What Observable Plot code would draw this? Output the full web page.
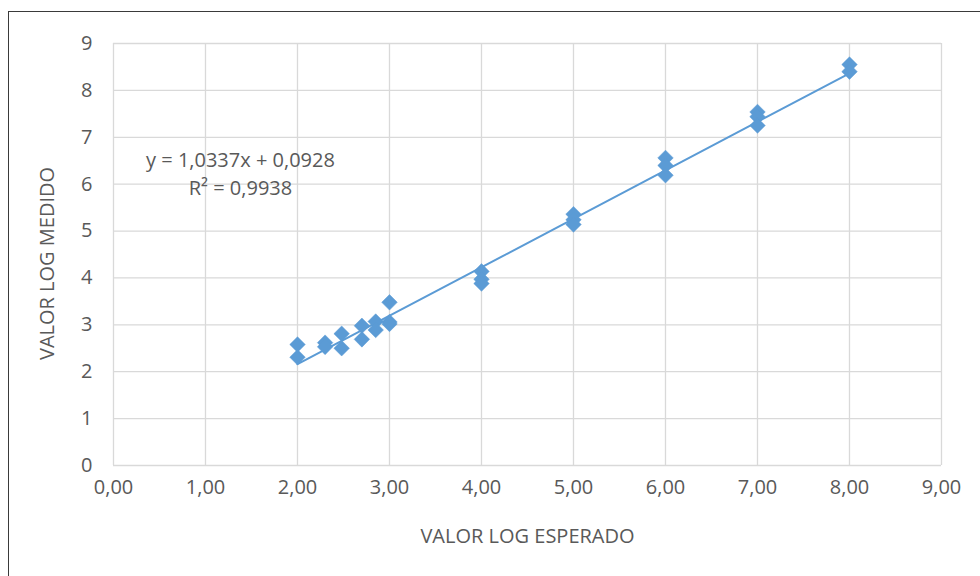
<!DOCTYPE html>
<html>
<head>
<meta charset="utf-8">
<script src="https://cdn.jsdelivr.net/npm/d3@7"></script>
<script src="https://cdn.jsdelivr.net/npm/@observablehq/plot@0.6"></script>
<style>
  html, body { margin: 0; padding: 0; background: #fff; }
  #wrap { position: relative; width: 980px; height: 576px; overflow: hidden; }
  #frame { position: absolute; left: 8px; top: 11px; width: 1000px; height: 600px;
           border-left: 1.5px solid #3a3a3a; border-top: 1.5px solid #3a3a3a; pointer-events: none; }
</style>
</head>
<body>
<div id="wrap"><div id="frame"></div></div>
<script>
const xValues = [2, 2, 2.3, 2.3, 2.48, 2.48, 2.7, 2.7, 2.85, 2.85, 3, 3, 3,
                 4, 4, 4, 5, 5, 5, 6, 6, 6, 7, 7, 7, 8, 8];
const yValues = [2.58, 2.31, 2.62, 2.53, 2.81, 2.50, 2.98, 2.69, 3.07, 2.89, 3.48, 3.06, 3.02,
                 4.14, 3.97, 3.88, 5.36, 5.24, 5.14, 6.56, 6.40, 6.19, 7.54, 7.44, 7.25, 8.55, 8.40];
const slope = 1.0337, intercept = 0.0928, r2 = 0.9938;
const xTicks = [0, 1, 2, 3, 4, 5, 6, 7, 8, 9];
const yTicks = [0, 1, 2, 3, 4, 5, 6, 7, 8, 9];
const xLabel = "VALOR LOG ESPERADO";
const yLabel = "VALOR LOG MEDIDO";
const eqLabel = "y = 1,0337x + 0,0928";
const r2Label = "R² = 0,9938";

const points = xValues.map((x, i) => ({x, y: yValues[i]}));
const xMin = d3.min(xValues), xMax = d3.max(xValues);
const trend = [xMin, xMax].map(x => ({x, y: slope * x + intercept}));
const comma2 = d => d.toFixed(2).replace(".", ",");

const blue = "#5B9BD5";
const grid = "#D9D9D9";
const textColor = "#595959";
const font = "'Open Sans', Lato, sans-serif";
const fs = 20;

const chart = Plot.plot({
  width: 980,
  height: 576,
  marginLeft: 113,
  marginRight: 39,
  marginTop: 43,
  marginBottom: 111,
  style: { fontFamily: font, fontSize: fs + "px", color: textColor, background: "transparent" },
  x: { domain: [0, 9] },
  y: { domain: [0, 9] },
  marks: [
    Plot.gridX(xTicks, { stroke: grid, strokeOpacity: 1, strokeWidth: 1.3 }),
    Plot.gridY(yTicks, { stroke: grid, strokeOpacity: 1, strokeWidth: 1.3 }),
    Plot.axisX(xTicks, { tickSize: 0, tickPadding: 14, tickFormat: comma2, fontSize: fs, fill: textColor, label: null }),
    Plot.axisY(yTicks, { tickSize: 0, tickPadding: 21, tickFormat: d => String(d), fontSize: fs, fill: textColor, label: null }),
    Plot.line(trend, { x: "x", y: "y", stroke: blue, strokeWidth: 2 }),
    Plot.dot(points, { x: "x", y: "y", symbol: "diamond2", r: 7, fill: blue, stroke: blue, strokeWidth: 0.5 }),
    Plot.text([eqLabel], { x: 1.38, y: 6.5, text: d => d, fontSize: fs, fill: textColor }),
    Plot.text([r2Label], { x: 1.38, y: 5.9, text: d => d, fontSize: fs, fill: textColor }),
    Plot.text([xLabel], { frameAnchor: "bottom", textAnchor: "middle", dy: 77, text: d => d, fontSize: fs, fill: textColor }),
    Plot.text([yLabel], { frameAnchor: "left", textAnchor: "middle", dx: -66, dy: 9, rotate: -90, text: d => d, fontSize: fs, fill: textColor })
  ]
});
chart.style.position = "absolute";
chart.style.left = "0";
chart.style.top = "0";
document.getElementById("wrap").prepend(chart);
</script>
</body>
</html>
